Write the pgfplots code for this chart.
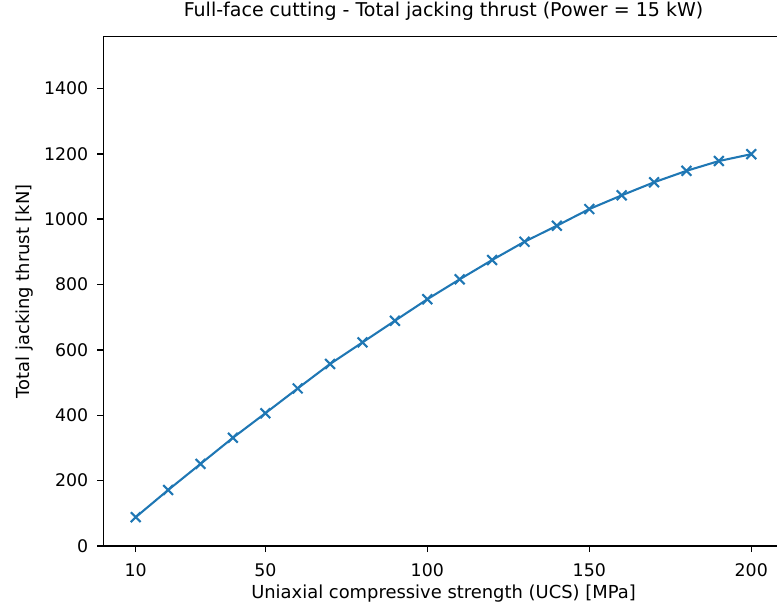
\documentclass[border=0pt]{standalone}
\usepackage{fontspec}
\setmainfont{DejaVu Sans}
\usepackage{pgfplots}
\pgfplotsset{compat=1.18}

\definecolor{mplblue}{HTML}{1F77B4}
\newcommand{\fs}{\fontsize{12.5pt}{15pt}\selectfont}
\newcommand{\fl}{\fontsize{12.9pt}{15pt}\selectfont}
\newcommand{\ft}{\fontsize{13.7pt}{16pt}\selectfont}

\begin{document}
\begin{tikzpicture}
\begin{axis}[
  scale only axis,
  width=489.9pt, height=366.7pt,
  xmin=0, xmax=210, ymin=0, ymax=1558.7,
  xtick={10,50,100,150,200},
  ytick={0,200,...,1400},
  tick pos=left, tick align=outside,
  major tick length=4.4pt,
  axis line style={line width=1pt},
  every tick/.style={line width=1pt, black},
  /pgf/number format/assume math mode=true,
  /pgf/number format/set thousands separator={},
  tick label style={font=\fs, inner sep=0pt},
  xticklabel style={anchor=north, yshift=-8pt},
  yticklabel style={anchor=east, xshift=-6.3pt},
  title={Full-face cutting - Total jacking thrust (Power = 15 kW)},
  title style={font=\ft, at={(axis description cs:0.5,1.024)}, anchor=base, inner sep=0pt},
  xlabel={Uniaxial compressive strength (UCS) [MPa]},
  xlabel style={font=\fl, at={(axis description cs:0.5,-0.1042)}, anchor=base, inner sep=0pt},
  ylabel={Total jacking thrust [kN]},
  ylabel style={font=\fl, at={(axis description cs:-0.1088,0.5)}, anchor=base, inner sep=0pt},
]
\addplot[mplblue, line width=1.5pt, mark=x, mark size=5pt,
  mark options={line width=1.5pt}] coordinates {
  (10,88) (20,171) (30,251) (40,331) (50,406) (60,482) (70,557)
  (80,623) (90,689) (100,755) (110,816) (120,875) (130,931)
  (140,980) (150,1031) (160,1073) (170,1113) (180,1148) (190,1178) (200,1199)
};
\end{axis}
\pgfresetboundingbox
\path[use as bounding box] (-74.4pt,-42.5pt) rectangle (485.1pt,393.1pt);
\end{tikzpicture}
\end{document}
